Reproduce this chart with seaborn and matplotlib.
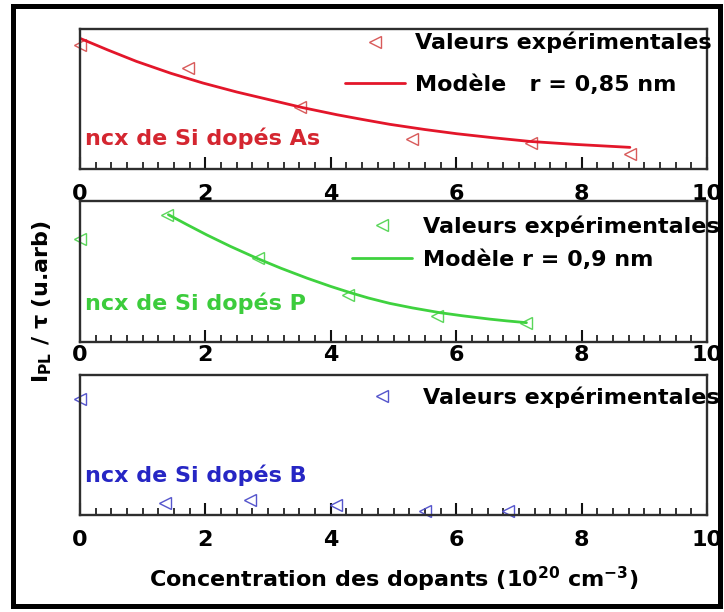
import matplotlib
matplotlib.use('Agg')
import matplotlib.pyplot as plt
import seaborn as sns
import pandas as pd
from matplotlib.patches import Rectangle
from matplotlib.ticker import MultipleLocator

# ---- data (y in arbitrary units 0..1 per panel) ----
as_x = [0, 1.72, 3.51, 5.29, 7.20, 8.77]
as_y = [0.88, 0.72, 0.443, 0.211, 0.183, 0.11]
as_model_x = [0, 0.45, 0.9, 1.45, 1.96, 2.5, 3.03, 3.55, 4.1, 4.5, 4.94, 5.5,
              6.01, 6.6, 7.18, 7.9, 8.77]
as_model_y = [0.93, 0.846, 0.766, 0.681, 0.612, 0.548, 0.492, 0.437, 0.386,
              0.353, 0.318, 0.281, 0.251, 0.222, 0.196, 0.175, 0.154]

p_x = [0, 1.38, 2.84, 4.28, 5.69, 7.12]
p_y = [0.728, 0.90, 0.596, 0.335, 0.184, 0.137]
p_model_x = [1.41, 1.7, 2.02, 2.4, 2.82, 3.2, 3.62, 4.0, 4.31, 4.6, 4.94, 5.3,
             5.74, 6.1, 6.54, 6.8, 7.12]
p_model_y = [0.903, 0.834, 0.760, 0.678, 0.594, 0.524, 0.453, 0.394, 0.350,
             0.312, 0.274, 0.242, 0.208, 0.186, 0.162, 0.150, 0.137]

b_x = [0, 1.36, 2.71, 4.09, 5.50, 6.83]
b_y = [0.83, 0.084, 0.107, 0.071, 0.031, 0.031]

xticks = [0, 2, 4, 6, 8, 10]
panel_labels = ["ncx de Si dopés As", "ncx de Si dopés P", "ncx de Si dopés B"]
exp_label = "Valeurs expérimentales"
model_labels = ["Modèle   r = 0,85 nm", "Modèle r = 0,9 nm"]

# ---- style ----
sns.set_style('white')
plt.rcParams['font.family'] = ['DejaVu Sans']
plt.rcParams['font.weight'] = 'bold'
plt.rcParams['mathtext.default'] = 'bf'
plt.rcParams['text.color'] = 'black'
plt.rcParams['xtick.color'] = 'black'
plt.rcParams['xtick.labelcolor'] = 'black'

W, H = 724, 612
FS = 16
fig = plt.figure(figsize=(W / 100, H / 100), dpi=100)

def rect(top, bottom, left=80, right=707):
    return [left / W, 1 - bottom / H, (right - left) / W, (bottom - top) / H]

red_line, red_mk, red_txt = '#e3162a', '#d85a5a', '#d42630'
grn_line, grn_mk, grn_txt = '#3fd23f', '#5ad65a', '#3ccc3c'
blu_mk, blu_txt = '#5555cc', '#2626c4'

panels = [
    dict(top=28.5, bottom=169, x=as_x, y=as_y, mx=as_model_x, my=as_model_y,
         line=red_line, mk=red_mk, txt=red_txt, mlabel=model_labels[0],
         text_y=138, leg_left=345, leg_center=63.5, lsp=0.95, pad=11, htp=0.45),
    dict(top=201, bottom=342, x=p_x, y=p_y, mx=p_model_x, my=p_model_y,
         line=grn_line, mk=grn_mk, txt=grn_txt, mlabel=model_labels[1],
         text_y=303, leg_left=352, leg_center=242.5, lsp=0.55, pad=2, htp=0.5),
    dict(top=375, bottom=515, x=b_x, y=b_y, mx=None, my=None,
         line=None, mk=blu_mk, txt=blu_txt, mlabel=None,
         text_y=475, leg_left=352, leg_center=397, lsp=0.4, pad=11, htp=0.5),
]

for i, P in enumerate(panels):
    ax = fig.add_axes(rect(P['top'], P['bottom']))
    df = pd.DataFrame({'x': P['x'], 'y': P['y']})
    sns.lineplot(data=df, x='x', y='y', ax=ax, marker='<', linestyle='',
                 markersize=8, markerfacecolor='none', markeredgecolor=P['mk'],
                 markeredgewidth=1.0, color=P['mk'], label=exp_label, clip_on=False)
    if P['mx'] is not None:
        dm = pd.DataFrame({'x': P['mx'], 'y': P['my']})
        sns.lineplot(data=dm, x='x', y='y', ax=ax, color=P['line'], lw=2.0,
                     label=P['mlabel'])
    ax.set_xlim(0, 10)
    ax.set_ylim(0, 1)
    ax.set_xlabel('')
    ax.set_ylabel('')
    ax.set_yticks([])
    ax.set_xticks(xticks)
    ax.set_xticklabels([str(t) for t in xticks], fontsize=FS, fontweight='bold',
                       color='black')
    ax.xaxis.set_minor_locator(MultipleLocator(0.25))
    ax.tick_params(axis='x', which='major', direction='in', length=9, width=1.5,
                   color='#111111', pad=P['pad'], bottom=True, top=False)
    ax.tick_params(axis='x', which='minor', direction='in', length=5, width=1.2,
                   color='#111111', bottom=True, top=False)
    for s in ax.spines.values():
        s.set_visible(True)
        s.set_color('#2e2e2e')
        s.set_linewidth(1.7)
    fig.text(85 / W, 1 - P['text_y'] / H, panel_labels[i], color=P['txt'],
             fontsize=FS, fontweight='bold', va='center', ha='left')
    leg = ax.legend(loc='center left',
                    bbox_to_anchor=(P['leg_left'] / W, 1 - P['leg_center'] / H),
                    bbox_transform=fig.transFigure, frameon=False, borderpad=0,
                    borderaxespad=0, handlelength=2.7, handletextpad=P['htp'],
                    labelspacing=P['lsp'], prop={'weight': 'bold', 'size': FS},
                    numpoints=1)
    for t in leg.get_texts():
        t.set_color('black')

fig.text(42 / W, 1 - 302 / H, r'I$_{PL}$ / τ (u.arb)', rotation=90,
         fontsize=FS, fontweight='bold', ha='center', va='center')
fig.text(394 / W, 1 - 579 / H,
         r'Concentration des dopants (10$^{20}$ cm$^{-3}$)',
         fontsize=FS, fontweight='bold', ha='center', va='center')

fig.add_artist(Rectangle((12.5 / W, 1 - 606 / H), (720 - 12.5) / W, 600 / H,
                         transform=fig.transFigure, fill=False, lw=3.6,
                         edgecolor='black'))

fig.savefig('out.png', dpi=100)
